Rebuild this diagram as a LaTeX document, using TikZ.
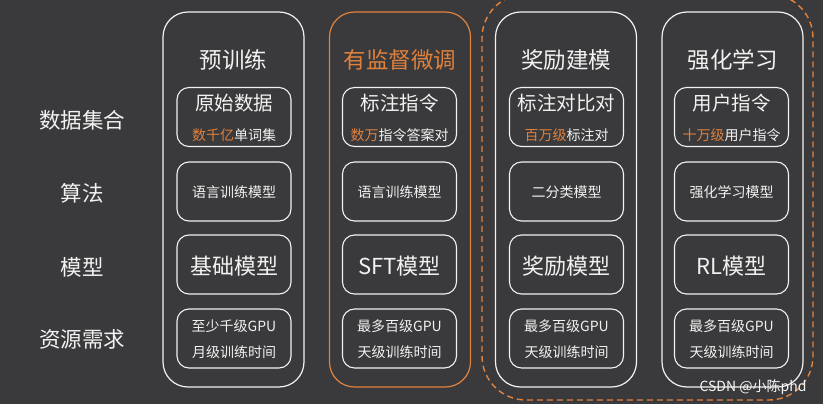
\documentclass[tikz,border=0pt]{standalone}
\usepackage{fontspec}
\setmainfont{Noto Sans CJK SC}
\usetikzlibrary{positioning}
\definecolor{bg}{HTML}{3A3A3C}
\definecolor{org}{HTML}{E0813C}
\definecolor{fg}{HTML}{F2F2F2}
\tikzset{
  colbox/.style={draw=#1, line width=1.2pt, rounded corners=25pt, minimum width=141pt, minimum height=375pt, inner sep=0pt},
  inbox/.style={draw=fg, line width=1.1pt, rounded corners=12pt, minimum width=114pt, minimum height=59pt, inner sep=0pt},
  title/.style={text=#1, font=\fontsize{22.5}{26}\selectfont},
  rowlabel/.style={text=fg, font=\fontsize{21.5}{25}\selectfont},
  bigtxt/.style={text=fg, font=\fontsize{22}{26}\selectfont},
  midtxt/.style={text=fg, font=\fontsize{19.5}{23}\selectfont},
  smalltxt/.style={text=fg, font=\fontsize{14}{17}\selectfont},
}
\begin{document}
\begin{tikzpicture}[x=1pt,y=-1pt]
\fill[bg] (0,0) rectangle (823,404);
\useasboundingbox (0,0) rectangle (823,404);

% dashed group
\node[draw=org, dashed, dash pattern=on 6pt off 4pt, line width=1.4pt, rounded corners=44pt,
      minimum width=331pt, minimum height=406pt, inner sep=0pt] (grp) at (647.5,197) {};

% columns
\node[colbox=fg]  (c1) at (233.5,199.5) {};
\node[colbox=org] (c2) at (400,199.5) {};
\node[colbox=fg]  (c3) at (566,199.5) {};
\node[colbox=fg]  (c4) at (732.5,199.5) {};

% titles
\node[title=fg]  (t1) at (233.5,60) {预训练};
\node[title=org] (t2) at (400,60) {有监督微调};
\node[title=fg]  (t3) at (566,60) {奖励建模};
\node[title=fg]  (t4) at (732.5,60) {强化学习};

% row labels
\node[rowlabel] (r1) at (82,120) {数据集合};
\node[rowlabel] (r2) at (82,193) {算法};
\node[rowlabel] (r3) at (82,267) {模型};
\node[rowlabel] (r4) at (82,339) {资源需求};

% inner boxes
\foreach \n/\x in {1/234,2/399.5,3/566.5,4/731.5}{
  \node[inbox] (d\n) at (\x,117) {};
  \node[inbox] (a\n) at (\x,191.5) {};
  \node[inbox] (m\n) at (\x,264.5) {};
  \node[inbox] (g\n) at (\x,338.5) {};
}

% data texts
\node[midtxt] (dm1) at (234,103) {原始数据};
\node[smalltxt] (ds1) at (234,135) {\textcolor{org}{数千亿}单词集};
\node[midtxt] (dm2) at (399.5,103) {标注指令};
\node[smalltxt] (ds2) at (399.5,135) {\textcolor{org}{数万}指令答案对};
\node[midtxt] (dm3) at (566.5,103) {标注对比对};
\node[smalltxt] (ds3) at (566.5,135) {\textcolor{org}{百万级}标注对};
\node[midtxt] (dm4) at (731.5,103) {用户指令};
\node[smalltxt] (ds4) at (731.5,135) {\textcolor{org}{十万级}用户指令};

% algorithm texts
\node[smalltxt] (at1) at (234,192) {语言训练模型};
\node[smalltxt] (at2) at (399.5,192) {语言训练模型};
\node[smalltxt] (at3) at (566.5,192) {二分类模型};
\node[smalltxt] (at4) at (731.5,192) {强化学习模型};

% model texts
\node[bigtxt] (mt1) at (234,266) {基础模型};
\node[bigtxt] (mt2) at (399.5,266) {SFT模型};
\node[bigtxt] (mt3) at (566.5,266) {奖励模型};
\node[bigtxt] (mt4) at (731.5,266) {RL模型};

% resource texts
\node[smalltxt] (ga1) at (234,326) {至少千级GPU};
\node[smalltxt] (gb1) at (234,352) {月级训练时间};
\node[smalltxt] (ga2) at (399.5,326) {最多百级GPU};
\node[smalltxt] (gb2) at (399.5,352) {天级训练时间};
\node[smalltxt] (ga3) at (566.5,326) {最多百级GPU};
\node[smalltxt] (gb3) at (566.5,352) {天级训练时间};
\node[smalltxt] (ga4) at (731.5,326) {最多百级GPU};
\node[smalltxt] (gb4) at (731.5,352) {天级训练时间};

% watermark
\node[text=fg!80, font=\fontsize{14}{16}\selectfont, anchor=east] (wm) at (810,387) {CSDN @小陈phd};
\end{tikzpicture}
\end{document}
